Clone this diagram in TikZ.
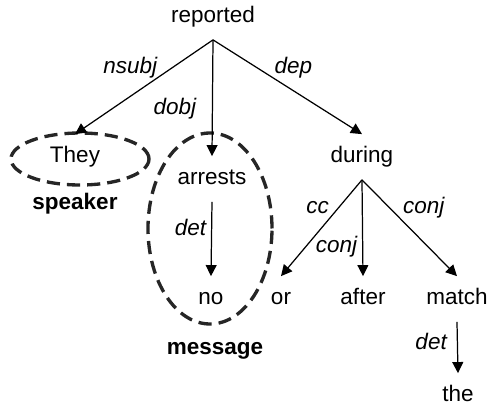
\documentclass[tikz,border=0pt]{standalone}
\usepackage{fontspec}
\setmainfont{Liberation Sans}
\usetikzlibrary{arrows.meta}

\begin{document}
\begin{tikzpicture}[
    mot/.style={font=\fontsize{12.8}{15}\selectfont, inner sep=0pt, outer ysep=0.25cm, text height=9.2pt, text depth=2.6pt},
    role/.style={font=\fontsize{12.8}{15}\selectfont\bfseries, inner sep=0pt},
    rel/.style={font=\fontsize{12.8}{15}\selectfont\itshape, inner sep=1pt},
    fleche/.style={-{Triangle[length=6.3pt,width=6.2pt]}, line width=0.7pt},
    groupe/.style={dash pattern=on 7.5pt off 4pt, line width=1.9pt, draw=black!85}
]
    \useasboundingbox (0,0) rectangle (9.8,-8.14);
    % Les mots
    \node[mot] (reported) at (4.26,-0.34) {reported};
    \node[mot] (they) at (1.50,-3.14) {They};
    \node[mot] (arrests) at (4.24,-3.58) {arrests};
    \node[mot] (during) at (7.24,-3.14) {during};
    \node[mot] (no) at (4.22,-5.98) {no};
    \node[mot] (or) at (5.62,-5.98) {or};
    \node[mot] (after) at (7.26,-5.98) {after};
    \node[mot] (match) at (9.14,-5.98) {match};
    \node[mot] (the) at (9.16,-7.92) {the};
    % Les groupes
    \draw[groupe] (1.60,-3.18) ellipse [x radius=1.38, y radius=0.52];
    \draw[groupe] (4.20,-4.57) ellipse [x radius=1.24, y radius=1.91];
    \node[role] (speaker) at (1.50,-4.08) {speaker};
    \node[role] (message) at (4.30,-7.02) {message};
    % Les dépendances
    \draw[fleche] (reported.south) -- (they.north) node[rel, pos=0.29, left=0.27cm] {nsubj};
    \draw[fleche] (reported.south) -- (arrests.north) node[rel, pos=0.59, left=0.28cm] {dobj};
    \draw[fleche] (reported.south) -- (during.north) node[rel, pos=0.29, right=0.32cm] {dep};
    \draw[fleche] (arrests.south) -- (no.north) node[rel, pos=0.35, left=0.065cm] {det};
    \draw[fleche] (during.south) -- (or.north) node[rel, pos=0.29, left=0.145cm] {cc};
    \draw[fleche] (during.south) -- (after.north) node[rel, pos=0.69, left=0.065cm] {conj};
    \draw[fleche] (during.south) -- (match.north) node[rel, pos=0.29, right=0.225cm] {conj};
    \draw[fleche] (match.south) -- (the.north) node[rel, pos=0.39, left=0.165cm] {det};
\end{tikzpicture}
\end{document}
